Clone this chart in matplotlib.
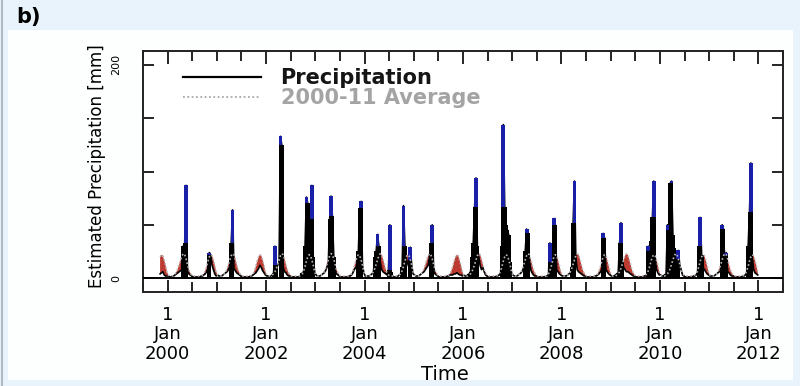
import numpy as np
import matplotlib
matplotlib.use("Agg")
import matplotlib.pyplot as plt
from matplotlib.patches import Rectangle
from matplotlib.lines import Line2D

plt.rcParams['font.family'] = "DejaVu Sans"

# dekadal (10-day) values, 36 per year
# 2000-11 average, one year of dekads (repeated for each year of the record)
avg_dekad = [3, 2, 2, 2, 3, 4, 6, 9, 13, 17, 21, 23, 22, 18, 13, 8, 5, 3,
             2, 2, 2, 2, 2, 2, 2, 3, 4, 7, 11, 16, 20, 22, 21, 17, 12, 6]

# precipitation, last 6 dekads of 1999 then one row per year
p1999 = [4, 5, 6, 3, 2, 2]
p2000 = [2, 1, 1, 2, 2, 3, 4, 5, 6, 7, 8, 30, 33, 87, 8, 4, 3, 2,
         1, 1, 1, 1, 1, 1, 2, 2, 3, 4, 6, 9, 24, 22, 12, 8, 4, 2]
p2001 = [3, 2, 2, 2, 3, 4, 5, 6, 8, 12, 33, 64, 9, 7, 5, 4, 3, 2,
         1, 1, 1, 1, 1, 1, 2, 2, 3, 4, 5, 7, 9, 12, 10, 7, 5, 3]
p2002 = [2, 2, 1, 2, 3, 5, 30, 12, 12, 14, 133, 125, 10, 6, 5, 3, 2, 2,
         1, 1, 1, 1, 1, 1, 2, 3, 5, 6, 30, 76, 70, 60, 55, 87, 20, 6]
p2003 = [3, 2, 2, 2, 3, 4, 5, 7, 10, 14, 55, 77, 58, 20, 8, 4, 3, 2,
         1, 1, 1, 1, 1, 1, 2, 2, 3, 5, 8, 10, 12, 25, 66, 72, 12, 5]
p2004 = [2, 2, 2, 2, 3, 4, 6, 20, 25, 41, 30, 15, 8, 6, 5, 4, 3, 8,
         50, 6, 2, 1, 1, 1, 2, 3, 4, 10, 68, 30, 18, 14, 10, 29, 12, 4]
p2005 = [3, 2, 2, 2, 3, 4, 5, 6, 8, 10, 12, 20, 33, 50, 10, 4, 3, 2,
         1, 1, 1, 1, 1, 1, 2, 2, 3, 3, 3, 4, 4, 5, 4, 3, 3, 2]
p2006 = [3, 2, 2, 3, 4, 6, 20, 33, 67, 94, 30, 20, 12, 8, 10, 6, 3, 2,
         1, 1, 1, 1, 1, 1, 2, 2, 3, 5, 30, 144, 67, 50, 45, 40, 15, 5]
p2007 = [3, 2, 2, 2, 3, 4, 5, 7, 10, 25, 46, 42, 18, 8, 5, 3, 2, 2,
         1, 1, 1, 1, 1, 1, 2, 2, 3, 33, 15, 20, 56, 50, 8, 6, 4, 3]
p2008 = [2, 2, 2, 2, 3, 4, 5, 10, 52, 91, 20, 8, 6, 5, 4, 3, 2, 2,
         1, 1, 1, 1, 1, 1, 2, 2, 3, 4, 6, 8, 42, 38, 8, 6, 4, 3]
p2009 = [2, 2, 2, 3, 4, 5, 33, 52, 15, 10, 8, 6, 6, 5, 4, 3, 2, 2,
         1, 1, 1, 1, 1, 1, 2, 2, 3, 30, 25, 35, 57, 91, 20, 8, 5, 3]
p2010 = [3, 2, 2, 3, 4, 50, 45, 89, 91, 40, 28, 12, 8, 26, 12, 8, 3, 2,
         1, 1, 1, 1, 1, 1, 2, 2, 3, 5, 30, 57, 22, 10, 8, 6, 4, 3]
p2011 = [2, 2, 2, 2, 3, 4, 5, 6, 8, 50, 46, 12, 24, 6, 5, 3, 2, 2,
         1, 1, 1, 1, 1, 1, 2, 2, 3, 5, 30, 62, 108, 20, 8, 5, 4, 3]

rows = [p2000, p2001, p2002, p2003, p2004, p2005,
        p2006, p2007, p2008, p2009, p2010, p2011]
years = list(range(2000, 2012))
tick_years = [2000, 2002, 2004, 2006, 2008, 2010, 2012]
tick_labels = ["1\nJan\n%d" % y for y in tick_years]

# time axis in decimal years (dekad centres)
dek = np.arange(36)
t = np.concatenate([1999 + (dek[30:] + 0.5) / 36.] +
                   [y + (dek + 0.5) / 36. for y in years])
precip = np.concatenate([p1999] + rows).astype(float)
avg = np.concatenate([avg_dekad[30:]] + [avg_dekad] * len(years)).astype(float)

# part of each dekad standing above both its neighbours and the average
nb = np.maximum(np.r_[0, precip[:-1]], np.r_[precip[1:], 0])
low = np.maximum(nb, avg)
hi = precip > avg
top = precip > low

fig = plt.figure(figsize=(8, 3.86), dpi=100)
fig.patch.set_facecolor('#e8f3fb')
fig.patches.append(Rectangle((8/800., 1 - 380/386.), 785/800., 350/386.,
                             transform=fig.transFigure, facecolor='#fdfefe',
                             edgecolor='none', zorder=-5))
fig.add_artist(Line2D([2/800., 2/800.], [0, 1], color='#b3bac2', lw=1.5))

ax = fig.add_axes([143/800., 1 - 292/386., 640/800., 241/386.])
ax.set_facecolor('white')

blue = '#1a1fa8'
red = '#bd3a30'
bw = 2.8 / 36.
ax.fill_between(t, precip, avg, where=avg > precip, interpolate=True,
                color=red, lw=0, zorder=2)
ax.plot(t, precip, color='black', lw=1.2, zorder=3)
ax.bar(t[hi], precip[hi], width=bw, color='black', lw=0, zorder=3)
ax.bar(t[top], (precip - low)[top], bottom=low[top], width=bw,
       color=blue, lw=0, zorder=4)
ax.plot(t, avg, color='#b8b8b8', lw=1.2, ls=(0, (1, 1.4)), zorder=5)
ax.axhline(0, color='black', lw=1.4, zorder=3)

ax.set_xlim(1999.556, 2012.485)
ax.set_ylim(-13, 213)

ax.set_xticks(tick_years)
ax.set_xticklabels(tick_labels, fontsize=13, linespacing=1.1)
ax.set_xticks(np.arange(1999.5, 2012.6, 0.5), minor=True)
ax.tick_params(axis='x', which='major', direction='in', top=True,
               length=9, width=1.2, pad=10)
ax.tick_params(axis='x', which='minor', direction='in', top=True,
               length=7.5, width=1.2)

ax.set_yticks([0, 50, 100, 150, 200])
ax.set_yticklabels(['0', '', '', '', '200'], rotation=90, va='center',
                   fontsize=8)
ax.tick_params(axis='y', direction='in', right=True, length=8, width=1.2,
               pad=16)

for s in ax.spines.values():
    s.set_linewidth(1.4)
    s.set_color('#222222')

h_p = Line2D([], [], color='black', lw=1.6)
h_a = Line2D([], [], color='#a8a8a8', lw=1.3, ls=(0, (1, 1.4)))
leg = ax.legend(handles=[h_p, h_a], labels=['Precipitation', '2000-11 Average'],
                loc='upper left', bbox_to_anchor=(0.062, 0.93), frameon=False,
                handlelength=3.75, handletextpad=0.95, labelspacing=0.0,
                borderpad=0, borderaxespad=0,
                prop={'size': 15, 'weight': 'bold'})
leg.get_texts()[0].set_color('#151515')
leg.get_texts()[1].set_color('#a4a4a4')

fig.text(97/800., 1 - 166/386., 'Estimated Precipitation [mm]', rotation=90,
         ha='center', va='center', fontsize=12)
fig.text(445/800., 1 - 375/386., 'Time', ha='center', va='center',
         fontsize=14)
fig.text(16/800., 1 - 17/386., 'b)', ha='left', va='center', fontsize=15,
         fontweight='bold')

fig.savefig('out.png', dpi=100, facecolor=fig.get_facecolor())
